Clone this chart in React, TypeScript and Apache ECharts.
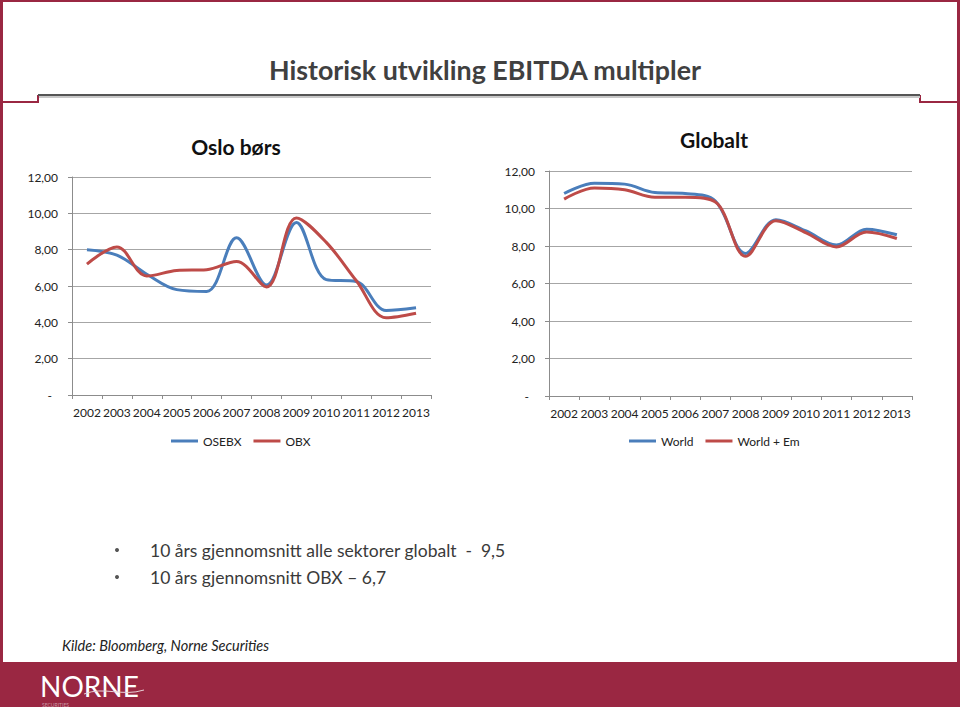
import React, { useEffect, useRef } from 'react';
import * as echarts from 'echarts';

const years = ['2002', '2003', '2004', '2005', '2006', '2007', '2008', '2009', '2010', '2011', '2012', '2013'];
const osebx = [8.0, 7.7, 6.65, 5.8, 5.7, 8.65, 6.05, 9.5, 6.35, 6.25, 4.65, 4.8];
const obx = [7.2, 8.15, 6.55, 6.85, 6.9, 7.35, 5.95, 9.75, 8.4, 6.3, 4.25, 4.5];
const world = [10.8, 11.35, 11.3, 10.85, 10.8, 10.4, 7.6, 9.4, 8.8, 8.05, 8.9, 8.6];
const worldEm = [10.5, 11.1, 11.0, 10.6, 10.6, 10.35, 7.45, 9.35, 8.7, 7.95, 8.75, 8.4];
const yMin = 0;
const yMax = 12;
const yStep = 2;
const mainTitle = 'Historisk utvikling EBITDA multipler';
const leftTitle = 'Oslo børs';
const rightTitle = 'Globalt';
const bullets = ['10 års gjennomsnitt alle sektorer globalt  -  9,5', '10 års gjennomsnitt OBX – 6,7'];
const source = 'Kilde: Bloomberg, Norne Securities';

const CRIMSON = '#9A2742';
const BLUE = '#4A7EBB';
const RED = '#BE4B48';
const FONT = 'Lato, "Open Sans", sans-serif';

const fmt = (v: number) => (v === 0 ? '-  ' : v.toFixed(2).replace('.', ','));

function yAxis(gridIndex: number) {
  return {
    type: 'value',
    gridIndex,
    min: yMin,
    max: yMax,
    interval: yStep,
    axisLine: { show: true, lineStyle: { color: '#8c8c8c', width: 1 } },
    axisTick: { show: true, length: 4, lineStyle: { color: '#8c8c8c' } },
    splitLine: { show: true, lineStyle: { color: '#a6a6a6', width: 1 } },
    axisLabel: { formatter: fmt, color: '#222', fontFamily: FONT, fontSize: 12, margin: 14 },
  };
}

function xAxis(gridIndex: number) {
  return {
    type: 'category',
    gridIndex,
    data: years,
    boundaryGap: true,
    axisLine: { show: true, lineStyle: { color: '#8c8c8c', width: 1 } },
    axisTick: { show: true, length: 4, lineStyle: { color: '#8c8c8c' } },
    axisLabel: { color: '#222', fontFamily: FONT, fontSize: 12, margin: 11, interval: 0 },
  };
}

function line(name: string, data: number[], color: string, idx: number) {
  return {
    name,
    type: 'line',
    xAxisIndex: idx,
    yAxisIndex: idx,
    data,
    smooth: 0.35,
    showSymbol: false,
    symbol: 'none',
    lineStyle: { color, width: 3 },
    itemStyle: { color },
  };
}

export default function App() {
  const ref = useRef<HTMLDivElement>(null);
  useEffect(() => {
    if (!ref.current) return;
    const chart = echarts.init(ref.current, undefined, { renderer: 'svg' });
    const legendCommon = {
      icon: 'rect',
      itemWidth: 27,
      itemHeight: 3,
      itemGap: 12,
      textStyle: { color: '#222', fontFamily: FONT, fontSize: 12 },
    };
    chart.setOption({
      animation: false,
      backgroundColor: '#fff',
      title: [
        { text: mainTitle, left: 480, textAlign: 'center', top: 51, textStyle: { fontFamily: FONT, fontSize: 26.8, fontWeight: 'bold', color: '#404040' } },
        { text: leftTitle, left: 231, textAlign: 'center', top: 131, textStyle: { fontFamily: FONT, fontSize: 21, fontWeight: 'bold', color: '#111' } },
        { text: rightTitle, left: 709, textAlign: 'center', top: 124, textStyle: { fontFamily: FONT, fontSize: 21, fontWeight: 'bold', color: '#111' } },
      ],
      legend: [
        { ...legendCommon, data: ['OSEBX', 'OBX'], left: 166, top: 430 },
        { ...legendCommon, data: ['World', 'World + Em'], left: 624, top: 430 },
      ],
      grid: [
        { left: 72, top: 177, width: 359, height: 218, containLabel: false },
        { left: 549, top: 171, width: 363, height: 225, containLabel: false },
      ],
      xAxis: [xAxis(0), xAxis(1)],
      yAxis: [yAxis(0), yAxis(1)],
      series: [
        line('OSEBX', osebx, BLUE, 0),
        line('OBX', obx, RED, 0),
        line('World', world, BLUE, 1),
        line('World + Em', worldEm, RED, 1),
      ],
      graphic: [
        { type: 'rect', shape: { x: 0, y: 0, width: 960, height: 2 }, style: { fill: CRIMSON } },
        { type: 'rect', shape: { x: 0, y: 0, width: 3, height: 707 }, style: { fill: CRIMSON } },
        { type: 'rect', shape: { x: 957, y: 0, width: 3, height: 707 }, style: { fill: CRIMSON } },
        { type: 'polyline', shape: { points: [[0, 102], [38, 102], [38, 95]] }, style: { stroke: CRIMSON, lineWidth: 2, fill: 'none' } },
        { type: 'polyline', shape: { points: [[920, 95], [920, 102], [960, 102]] }, style: { stroke: CRIMSON, lineWidth: 2, fill: 'none' } },
        { type: 'line', shape: { x1: 39, y1: 97, x2: 920, y2: 97 }, style: { stroke: '#c8c8c8', lineWidth: 2 } },
        { type: 'line', shape: { x1: 38, y1: 95, x2: 920, y2: 95 }, style: { stroke: '#555', lineWidth: 2 } },
        { type: 'rect', shape: { x: 0, y: 662, width: 960, height: 45 }, style: { fill: CRIMSON } },
        { type: 'circle', shape: { cx: 117, cy: 550, r: 2 }, style: { fill: '#555' } },
        { type: 'circle', shape: { cx: 117, cy: 577, r: 2 }, style: { fill: '#555' } },
        { type: 'text', x: 150, y: 550, style: { text: bullets[0], fontFamily: FONT, fontSize: 17.5, fill: '#3a3a3a', textVerticalAlign: 'middle' } },
        { type: 'text', x: 150, y: 577, style: { text: bullets[1], fontFamily: FONT, fontSize: 17.5, fill: '#3a3a3a', textVerticalAlign: 'middle' } },
        { type: 'text', x: 62, y: 645, style: { text: source, fontFamily: FONT, fontSize: 14.5, fontStyle: 'italic', fill: '#222', textVerticalAlign: 'middle' } },
        { type: 'text', x: 40, y: 700, style: { text: 'NORNE', fontFamily: FONT, fontSize: 28, fill: '#fff', textVerticalAlign: 'bottom' } },
        { type: 'text', x: 42, y: 702, style: { text: 'SECURITIES', fontFamily: FONT, fontSize: 5, fill: '#c99aa6', textVerticalAlign: 'top' } },
        { type: 'bezierCurve', shape: { x1: 84, y1: 694, cpx1: 104, cpy1: 686, cpx2: 122, cpy2: 697, x2: 144, y2: 690 }, style: { stroke: '#e8d0d6', lineWidth: 1, fill: 'none' } },
      ],
    });
    return () => chart.dispose();
  }, []);
  return <div ref={ref} style={{ position: 'fixed', left: 0, top: 0, width: 960, height: 707 }} />;
}
